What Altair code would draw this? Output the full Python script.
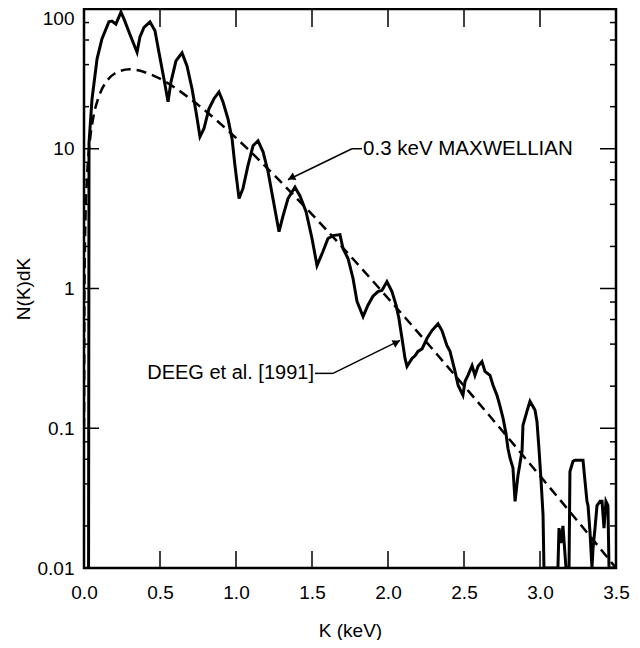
import altair as alt
import pandas as pd

K_meas = [0.030, 0.033, 0.053, 0.086, 0.118, 0.164, 0.184, 0.210, 0.243, 0.263,
          0.296, 0.322, 0.349, 0.368, 0.395, 0.434, 0.467, 0.493, 0.526, 0.553,
          0.572, 0.605, 0.645, 0.678, 0.711, 0.737, 0.763, 0.789, 0.822, 0.855,
          0.888, 0.914, 0.947, 0.974, 0.993, 1.020, 1.046, 1.079, 1.112, 1.145,
          1.178, 1.211, 1.243, 1.283, 1.309, 1.342, 1.388, 1.421, 1.461, 1.500,
          1.533, 1.572, 1.605, 1.638, 1.684, 1.704, 1.737, 1.770, 1.796, 1.836,
          1.868, 1.901, 1.934, 1.961, 1.993, 2.026, 2.053, 2.072, 2.092, 2.112,
          2.125, 2.158, 2.178, 2.197, 2.224, 2.257, 2.289, 2.329, 2.355, 2.388,
          2.408, 2.441, 2.461, 2.493, 2.507, 2.526, 2.553, 2.572, 2.592, 2.618,
          2.638, 2.671, 2.691, 2.717, 2.737, 2.757, 2.776, 2.789, 2.803, 2.822,
          2.836, 2.855, 2.882, 2.888, 2.914, 2.934, 2.967, 2.980, 2.993, 3.007,
          3.020, 3.026, 3.118, 3.125, 3.138, 3.151, 3.171, 3.191, 3.197, 3.217,
          3.230, 3.283, 3.296, 3.309, 3.316, 3.329, 3.342, 3.349, 3.362, 3.375,
          3.395, 3.408, 3.421, 3.434, 3.447, 3.454, 3.500]
N_meas = [0.01, 11.0, 22.8, 44.0, 61.0, 81.0, 82.0, 78.0, 95.0, 85.0,
          68.5, 58.0, 49.0, 63.0, 74.0, 81.0, 70.0, 49.0, 31.6, 21.7,
          30.0, 42.5, 48.5, 39.0, 26.8, 18.4, 12.2, 13.9, 19.3, 22.8,
          25.5, 21.7, 16.4, 11.8, 7.6, 4.4, 5.2, 7.6, 10.5, 11.4,
          9.5, 6.85, 4.4, 2.55, 3.3, 4.4, 5.3, 4.6, 3.55, 2.28,
          1.46, 1.84, 2.28, 2.39, 2.43, 1.93, 1.64, 1.18, 0.81, 0.63,
          0.76, 0.88, 0.95, 0.97, 1.12, 0.95, 0.76, 0.61, 0.44, 0.316,
          0.277, 0.316, 0.33, 0.355, 0.37, 0.44, 0.50, 0.56, 0.50, 0.39,
          0.355, 0.255, 0.203, 0.172, 0.217, 0.239, 0.28, 0.239, 0.277, 0.30,
          0.255, 0.239, 0.203, 0.172, 0.144, 0.118, 0.092, 0.072, 0.061, 0.052,
          0.030, 0.046, 0.069, 0.105, 0.132, 0.156, 0.135, 0.112, 0.072, 0.042,
          0.024, 0.01, 0.01, 0.0193, 0.0151, 0.020, 0.01, 0.01, 0.049, 0.058,
          0.059, 0.059, 0.042, 0.030, 0.028, 0.018, 0.01, 0.0139, 0.0193, 0.028,
          0.030, 0.030, 0.0193, 0.030, 0.028, 0.01, 0.01]

# 0.3 keV Maxwellian (dashed)
K_maxw = [0.0003, 0.003, 0.01, 0.02, 0.04, 0.06, 0.10, 0.15, 0.20, 0.30,
          0.40, 0.50, 0.75, 1.00, 1.25, 1.50, 1.75, 2.00, 2.25, 2.50,
          2.75, 3.00, 3.25, 3.50]
N_maxw = [0.10, 0.99, 3.24, 6.27, 11.7, 16.5, 24.0, 30.5, 34.4, 37.0,
          35.3, 31.7, 20.6, 11.96, 6.49, 3.39, 1.72, 0.852, 0.417, 0.201,
          0.0964, 0.0456, 0.0215, 0.0100]

x_ticks = [0.0, 0.5, 1.0, 1.5, 2.0, 2.5, 3.0, 3.5]
y_ticks = [0.01, 0.1, 1, 10, 100]
y_minor = [m * d for d in [0.01, 0.1, 1, 10] for m in [2, 4, 6, 8]]

X_MIN, X_MAX = 0.0, 3.5
Y_MIN, Y_MAX = 0.01, 100

W, H = 532, 559
FONT = "Liberation Sans"
XT = "K (keV)"
YT = "N(K)dK"

xs = alt.Scale(domain=[X_MIN, X_MAX], nice=False, zero=False)
ys = alt.Scale(type="log", domain=[Y_MIN, Y_MAX], nice=False)

meas = pd.DataFrame({"K": K_meas, "N": N_meas, "i": range(len(K_meas))})
maxw = pd.DataFrame({"K": K_maxw, "N": N_maxw, "i": range(len(K_maxw))})

# inward tick lengths (pixels) turned into axis units
px_x = (X_MAX - X_MIN) / W                 # K per pixel
px_y = 10 ** (4.0 / H)                     # factor per pixel on the log axis


def X(f):
    return alt.X(f, scale=xs, title=XT)


def Y(f):
    return alt.Y(f, scale=ys, title=YT)


solid = alt.Chart(meas).mark_line(color="black", strokeWidth=3, clip=True).encode(
    x=alt.X("K:Q", scale=xs, title=XT,
            axis=alt.Axis(values=x_ticks, format=".1f", labelPadding=15, titlePadding=19)),
    y=alt.Y("N:Q", scale=ys, title=YT,
            axis=alt.Axis(values=y_ticks, format="~g", labelPadding=10, titlePadding=4,
                          labelBaseline={"condition": {"test": "datum.value >= 100", "value": "top"},
                                         "value": "middle"})),
    order="i:Q",
)

dashed = alt.Chart(maxw).mark_line(color="black", strokeWidth=2.5, strokeDash=[10, 6],
                                   interpolate="monotone", clip=True).encode(
    x=X("K:Q"), y=Y("N:Q"), order="i:Q",
)

# tick segments (frame ticks point inwards)
inner_x = x_ticks[1:-1]
inner_y = y_ticks[1:-1]
rows = []
for k in inner_x:
    rows.append((k, Y_MIN * px_y ** 0.5, k, Y_MIN * px_y ** 17, 1.5))
    rows.append((k, Y_MAX / px_y ** 0.5, k, Y_MAX / px_y ** 18, 1.5))
for n in inner_y:
    rows.append((X_MIN + 0.5 * px_x, n, X_MIN + 15 * px_x, n, 1.5))
    rows.append((X_MAX - 0.5 * px_x, n, X_MAX - 16 * px_x, n, 1.5))
for n in y_minor:
    rows.append((X_MIN + 0.5 * px_x, n, X_MIN + 5 * px_x, n, 1.2))
    rows.append((X_MAX - 0.5 * px_x, n, X_MAX - 6 * px_x, n, 1.2))
ticks = pd.DataFrame(rows, columns=["K", "N", "K2", "N2", "w"])
tick_rules = alt.Chart(ticks).mark_rule(color="black", strokeWidth=1.5).encode(
    x=X("K:Q"), y=Y("N:Q"), x2="K2:Q", y2="N2:Q")

# annotations
seg = pd.DataFrame({
    "K": [1.829, 1.763, 1.520, 1.638],
    "N": [10.0, 10.0, 0.247, 0.247],
    "K2": [1.763, 1.342, 1.638, 2.079],
    "N2": [10.0, 6.0, 0.247, 0.425],
})
leaders = alt.Chart(seg).mark_rule(color="black", strokeWidth=1.5).encode(
    x=X("K:Q"), y=Y("N:Q"), x2="K2:Q", y2="N2:Q")

heads1 = pd.DataFrame({"K": [1.364], "N": [6.2]})
heads2 = pd.DataFrame({"K": [2.057], "N": [0.412]})
arrow1 = alt.Chart(heads1).mark_point(shape="triangle-up", filled=True, color="black",
                                      size=70, opacity=1, angle=244).encode(x=X("K:Q"), y=Y("N:Q"))
arrow2 = alt.Chart(heads2).mark_point(shape="triangle-up", filled=True, color="black",
                                      size=70, opacity=1, angle=64).encode(x=X("K:Q"), y=Y("N:Q"))

labels = pd.DataFrame({"K": [1.836], "N": [10.0], "t": ["0.3 keV MAXWELLIAN"]})
lab1 = alt.Chart(labels).mark_text(align="left", baseline="middle", fontSize=20.5, font=FONT,
                                   color="black").encode(x=X("K:Q"), y=Y("N:Q"), text="t:N")
labels2 = pd.DataFrame({"K": [1.513], "N": [0.247], "t": ["DEEG et al. [1991]"]})
lab2 = alt.Chart(labels2).mark_text(align="right", baseline="middle", fontSize=20, font=FONT,
                                    color="black").encode(x=X("K:Q"), y=Y("N:Q"), text="t:N")

chart = alt.layer(
    solid, dashed, leaders, arrow1, arrow2, lab1, lab2, tick_rules
).properties(
    width=W, height=H,
    autosize=alt.AutoSizeParams(type="none"),
    padding={"left": 76, "top": 1, "right": 16, "bottom": 72},
    background="white",
).configure_axis(
    grid=False, ticks=False, tickSize=0, domain=False,
    labelFont=FONT, labelFontSize=19, labelColor="black",
    titleFont=FONT, titleFontSize=19, titleFontWeight="normal", titleColor="black",
    labelFlush=False, labelOverlap=False,
).configure_view(
    stroke="black", strokeWidth=2.5
)

chart.save("out.html", embed_options={"renderer": "svg", "actions": False})
